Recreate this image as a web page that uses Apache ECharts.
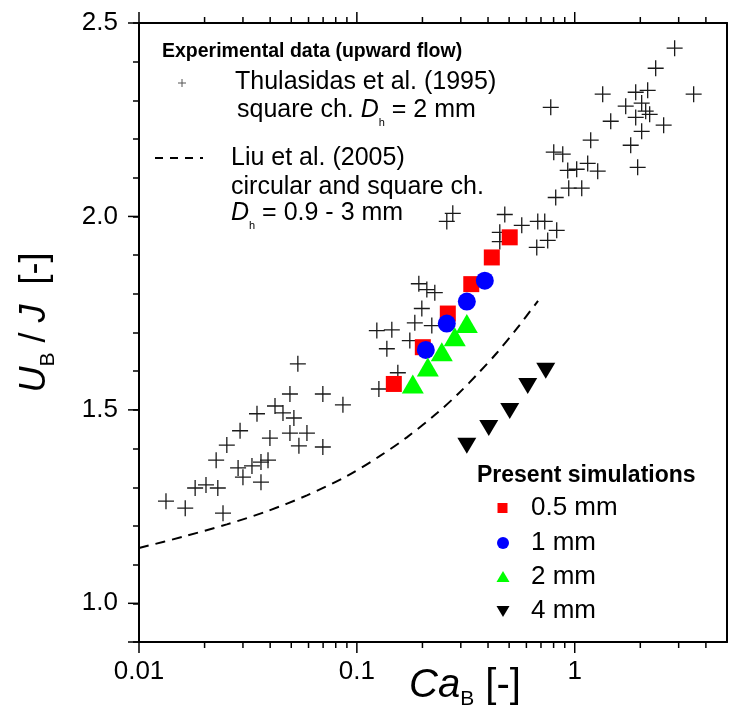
<!DOCTYPE html>
<html>
<head>
<meta charset="utf-8">
<script src="https://cdn.jsdelivr.net/npm/echarts@6/dist/echarts.min.js"></script>
<style>html,body{margin:0;padding:0;background:#fff}#c{width:729px;height:712px}</style>
</head>
<body>
<div id="c"></div>
<script>
const FONT = '"Liberation Sans", Arial, Helvetica, sans-serif';

// Thulasidas et al. (1995) – experimental data (Ca_B, U_B/J)
const thulasidasCa = [
  0.0133, 0.0163, 0.0181, 0.0203, 0.0230, 0.0243, 0.0226, 0.0253, 0.0291, 0.0348,
  0.0421, 0.0458, 0.0514, 0.0493, 0.0536, 0.0698, 0.0863, 0.0399, 0.0493, 0.0590,
  0.0542, 0.0698, 0.0285, 0.0300, 0.0330, 0.0363, 0.0391, 0.0363,
  0.1925, 0.2095, 0.2279, 0.1987, 0.1845, 0.2208, 0.1235, 0.1447, 0.1373, 0.1750,
  0.1542, 0.1262, 0.2756, 0.2587, 0.4775, 0.4529, 0.4529, 0.5713, 0.6766, 0.7284,
  0.8267, 0.6695, 0.7516,
  2.875, 2.353, 3.515, 1.905, 2.162, 1.344, 0.7762, 1.714, 2.029, 2.117,
  1.905, 2.208, 1.463, 2.560, 2.029, 1.184, 1.807, 1.945, 0.8012, 0.8811,
  1.147, 1.275, 0.9288, 1.021, 0.9387, 1.077, 0.818
];
const thulasidasU = [
  1.264, 1.246, 1.298, 1.306, 1.298, 1.233, 1.370, 1.409, 1.446, 1.490,
  1.510, 1.492, 1.479, 1.541, 1.619, 1.541, 1.513, 1.427, 1.440, 1.440,
  1.407, 1.404, 1.350, 1.326, 1.355, 1.365, 1.370, 1.313,
  1.826, 1.811, 1.803, 1.762, 1.725, 1.718, 1.705, 1.707, 1.658, 1.679,
  1.596, 1.554, 2.008, 1.987, 2.005, 1.959, 1.935, 1.977, 1.987, 1.987,
  1.964, 1.920, 1.938,
  2.435, 2.383, 2.316, 2.321, 2.326, 2.316, 2.282, 2.285, 2.293, 2.272,
  2.256, 2.264, 2.246, 2.236, 2.220, 2.197, 2.184, 2.127, 2.166, 2.161,
  2.137, 2.117, 2.119, 2.122, 2.073, 2.073, 2.049
];

// Liu et al. (2005) correlation
const liuCa = [0.01, 0.0159, 0.0253, 0.0387, 0.059, 0.09, 0.1262, 0.1696, 0.2328, 0.2937, 0.3627, 0.4388, 0.5421, 0.6786];
const liuU  = [1.143, 1.172, 1.204, 1.238, 1.279, 1.329, 1.379, 1.429, 1.491, 1.543, 1.596, 1.647, 1.710, 1.782];

// Present simulations
const sim05Ca = [0.1478, 0.2008, 0.2615, 0.3351, 0.4163, 0.5031];
const sim05U  = [1.567, 1.662, 1.749, 1.825, 1.894, 1.946];
const sim1Ca  = [0.2073, 0.2587, 0.3197, 0.3866];
const sim1U   = [1.655, 1.723, 1.780, 1.834];
const sim2Ca  = [0.1806, 0.2117, 0.2454, 0.2815, 0.3197];
const sim2U   = [1.567, 1.611, 1.650, 1.689, 1.723];
const sim4Ca  = [0.3197, 0.4031, 0.5031, 0.6086, 0.7362];
const sim4U   = [1.407, 1.453, 1.497, 1.562, 1.601];

// Axes
const X_MIN = 0.01, X_MAX = 5, Y_MIN = 0.9, Y_MAX = 2.5;
const xMajorTicks = [0.01, 0.1, 1];
const xTickLabels = ['0.01', '0.1', '1'];
const xMinorTicks = [0.02,0.03,0.04,0.05,0.06,0.07,0.08,0.09,0.2,0.3,0.4,0.5,0.6,0.7,0.8,0.9,2,3,4];
const yMajorTicks = [0.9, 1.0, 1.5, 2.0, 2.5];
const yTickLabels = ['', '1.0', '1.5', '2.0', '2.5'];

const zip = (a, b) => a.map((v, i) => [v, b[i]]);

const axisLineStyle = { color: '#000', width: 2 };

const xTickData = xMajorTicks.map(v => [v, Y_MIN, 11]).concat(xMinorTicks.map(v => [v, Y_MIN, 6]));
const yTickData = yMajorTicks.map(v => [X_MIN, v, 11]);

const legRich = {
  n: { fontSize: 25, fontFamily: FONT, fill: '#000', color: '#000', verticalAlign: 'top' },
  i: { fontSize: 25, fontFamily: FONT, fontStyle: 'italic', fill: '#000', color: '#000', verticalAlign: 'top' },
  s: { fontSize: 11, fontFamily: FONT, fill: '#000', color: '#000', verticalAlign: 'top', padding: [20, 0, 0, 0] }
};
function legText(x, yc, text) {
  return { type: 'text', x: x, y: yc - 12.5, z: 10,
    style: { text: text, rich: legRich, fontSize: 25, fontFamily: FONT, fill: '#000', verticalAlign: 'top' } };
}
function plainText(x, yc, text, size, bold) {
  return { type: 'text', x: x, y: yc, z: 10,
    style: { text: text, fontSize: size, fontWeight: bold ? 'bold' : 'normal', fontFamily: FONT, fill: '#000', verticalAlign: 'middle' } };
}

const chart = echarts.init(document.getElementById('c'), null, { renderer: 'canvas' });
chart.setOption({
  animation: false,
  backgroundColor: '#fff',
  grid: { left: 139, right: 2, top: 23, bottom: 70, show: false, outerBoundsMode: 'none', containLabel: false },
  xAxis: [
    {
      type: 'log', logBase: 10, min: X_MIN, max: X_MAX, position: 'bottom',
      axisLine: { show: true, onZero: false, lineStyle: axisLineStyle },
      axisTick: { show: false }, minorTick: { show: false }, splitLine: { show: false },
      axisLabel: {
        fontSize: 26, color: '#000', fontFamily: FONT, margin: 17, showMaxLabel: false,
        formatter: v => { for (let k = 0; k < xMajorTicks.length; k++) { if (Math.abs(Math.log10(v / xMajorTicks[k])) < 1e-6) return xTickLabels[k]; } return ''; }
      },
      name: '{i|Ca}{s|B}{n| [-]}', nameLocation: 'middle', nameGap: 24, nameMoveOverlap: false,
      nameTextStyle: {
        padding: [0, 0, 0, 64],
        rich: {
          i: { fontSize: 40, fontStyle: 'italic', fontFamily: FONT, color: '#000', verticalAlign: 'top' },
          s: { fontSize: 21, fontFamily: FONT, color: '#000', verticalAlign: 'top', padding: [23, 0, 0, 0] },
          n: { fontSize: 40, fontFamily: FONT, color: '#000', verticalAlign: 'top' }
        }
      }
    },
    {
      type: 'log', logBase: 10, min: X_MIN, max: X_MAX, position: 'top',
      axisLine: { show: true, onZero: false, lineStyle: axisLineStyle },
      axisTick: { show: false }, axisLabel: { show: false }, splitLine: { show: false }
    }
  ],
  yAxis: [
    {
      type: 'value', min: Y_MIN, max: Y_MAX, interval: 0.1, position: 'left',
      axisLine: { show: true, onZero: false, lineStyle: axisLineStyle },
      axisTick: { show: true, inside: false, length: 6, lineStyle: { color: '#000', width: 1.5 } },
      splitLine: { show: false },
      axisLabel: {
        fontSize: 26, color: '#000', fontFamily: FONT, margin: 21,
        formatter: v => { const r = Math.round(v * 10); const k = yMajorTicks.findIndex(t => Math.round(t * 10) === r); return k >= 0 ? yTickLabels[k] : ''; }
      },
      name: '{i|U}{s|B}{n| / }{i|J}{n|  [-]}', nameLocation: 'middle', nameGap: 80, nameRotate: 90, nameMoveOverlap: false,
      nameTextStyle: {
        padding: [0, 0, 0, 20],
        rich: {
          i: { fontSize: 36, fontStyle: 'italic', fontFamily: FONT, color: '#000', verticalAlign: 'top' },
          s: { fontSize: 21, fontFamily: FONT, color: '#000', verticalAlign: 'top', padding: [21, 0, 0, 0] },
          n: { fontSize: 36, fontFamily: FONT, color: '#000', verticalAlign: 'top' }
        }
      }
    },
    {
      type: 'value', min: Y_MIN, max: Y_MAX, interval: 0.1, position: 'right',
      axisLine: { show: true, onZero: false, lineStyle: axisLineStyle },
      axisTick: { show: false }, axisLabel: { show: false }, splitLine: { show: false }
    }
  ],
  series: [
    {
      name: 'Thulasidas et al. (1995)', type: 'scatter', xAxisIndex: 0, yAxisIndex: 0,
      data: zip(thulasidasCa, thulasidasU),
      symbol: 'path://M8,0L8,16M0,8L16,8', symbolSize: 16,
      itemStyle: { color: 'rgba(0,0,0,0)', borderColor: '#1a1a1a', borderWidth: 1.3, opacity: 1 },
      emphasis: { disabled: true }, z: 2
    },
    {
      name: 'Liu et al. (2005)', type: 'line', xAxisIndex: 0, yAxisIndex: 0,
      data: zip(liuCa, liuU), showSymbol: false, symbol: 'none', smooth: 0.3,
      lineStyle: { color: '#000', width: 2, type: [10, 7], opacity: 1 },
      emphasis: { disabled: true }, z: 3
    },
    {
      name: '0.5 mm', type: 'scatter', data: zip(sim05Ca, sim05U),
      symbol: 'rect', symbolSize: 16, itemStyle: { color: '#ff0000', opacity: 1 }, emphasis: { disabled: true }, z: 4
    },
    {
      name: '1 mm', type: 'scatter', data: zip(sim1Ca, sim1U),
      symbol: 'circle', symbolSize: 18, itemStyle: { color: '#0000ff', opacity: 1 }, emphasis: { disabled: true }, z: 5
    },
    {
      name: '2 mm', type: 'scatter', data: zip(sim2Ca, sim2U),
      symbol: 'triangle', symbolSize: [22, 19], itemStyle: { color: '#00ff00', opacity: 1 }, emphasis: { disabled: true }, z: 6
    },
    {
      name: '4 mm', type: 'scatter', data: zip(sim4Ca, sim4U),
      symbol: 'triangle', symbolRotate: 180, symbolSize: [19, 16], itemStyle: { color: '#000', opacity: 1 }, emphasis: { disabled: true }, z: 6
    },
    {
      name: 'xticks', type: 'custom', xAxisIndex: 0, yAxisIndex: 0, silent: true, clip: false, z: 8,
      data: xTickData,
      renderItem: (params, api) => {
        const v = api.value(0), len = api.value(2);
        const b = api.coord([v, Y_MIN]);
        const t = api.coord([v, Y_MAX]);
        const st = { stroke: '#000', lineWidth: 1.5 };
        return { type: 'group', children: [
          { type: 'line', shape: { x1: b[0], y1: b[1], x2: b[0], y2: b[1] + len }, style: st },
          { type: 'line', shape: { x1: t[0], y1: t[1], x2: t[0], y2: t[1] - len }, style: st }
        ] };
      }
    },
    {
      name: 'yticks', type: 'custom', xAxisIndex: 0, yAxisIndex: 0, silent: true, clip: false, z: 8,
      data: yTickData,
      renderItem: (params, api) => {
        const p = api.coord([api.value(0), api.value(1)]);
        const len = api.value(2);
        return { type: 'line', shape: { x1: p[0], y1: p[1], x2: p[0] - len, y2: p[1] }, style: { stroke: '#000', lineWidth: 1.5 } };
      }
    }
  ],
  graphic: [
    plainText(162, 52, 'Experimental data (upward flow)', 19.5, true),
    { type: 'line', z: 10, shape: { x1: 178, y1: 83, x2: 186, y2: 83 }, style: { stroke: '#555', lineWidth: 1 } },
    { type: 'line', z: 10, shape: { x1: 182, y1: 79, x2: 182, y2: 87 }, style: { stroke: '#555', lineWidth: 1 } },
    legText(235, 82, '{n|Thulasidas et al. (1995)}'),
    legText(237, 110, '{n|square ch. }{i|D}{s|h}{n| = 2 mm}'),
    { type: 'line', z: 10, shape: { x1: 155, y1: 158, x2: 203, y2: 158 }, style: { stroke: '#000', lineWidth: 2, lineDash: [8, 7] } },
    legText(231, 158, '{n|Liu et al. (2005)}'),
    legText(231, 187, '{n|circular and square ch.}'),
    legText(231, 213, '{i|D}{s|h}{n| = 0.9 - 3 mm}'),

    plainText(477, 476, 'Present simulations', 23, true),
    { type: 'rect', z: 10, shape: { x: 497.5, y: 503, width: 10, height: 10 }, style: { fill: '#ff0000' } },
    plainText(531, 508, '0.5 mm', 26, false),
    { type: 'circle', z: 10, shape: { cx: 503, cy: 543, r: 6 }, style: { fill: '#0000ff' } },
    plainText(531, 543, '1 mm', 26, false),
    { type: 'polygon', z: 10, shape: { points: [[503, 571], [496.5, 582], [509.5, 582]] }, style: { fill: '#00ff00' } },
    plainText(531, 577, '2 mm', 26, false),
    { type: 'polygon', z: 10, shape: { points: [[496.5, 606], [509.5, 606], [503, 617]] }, style: { fill: '#000' } },
    plainText(531, 611, '4 mm', 26, false)
  ]
});
</script>
</body>
</html>
